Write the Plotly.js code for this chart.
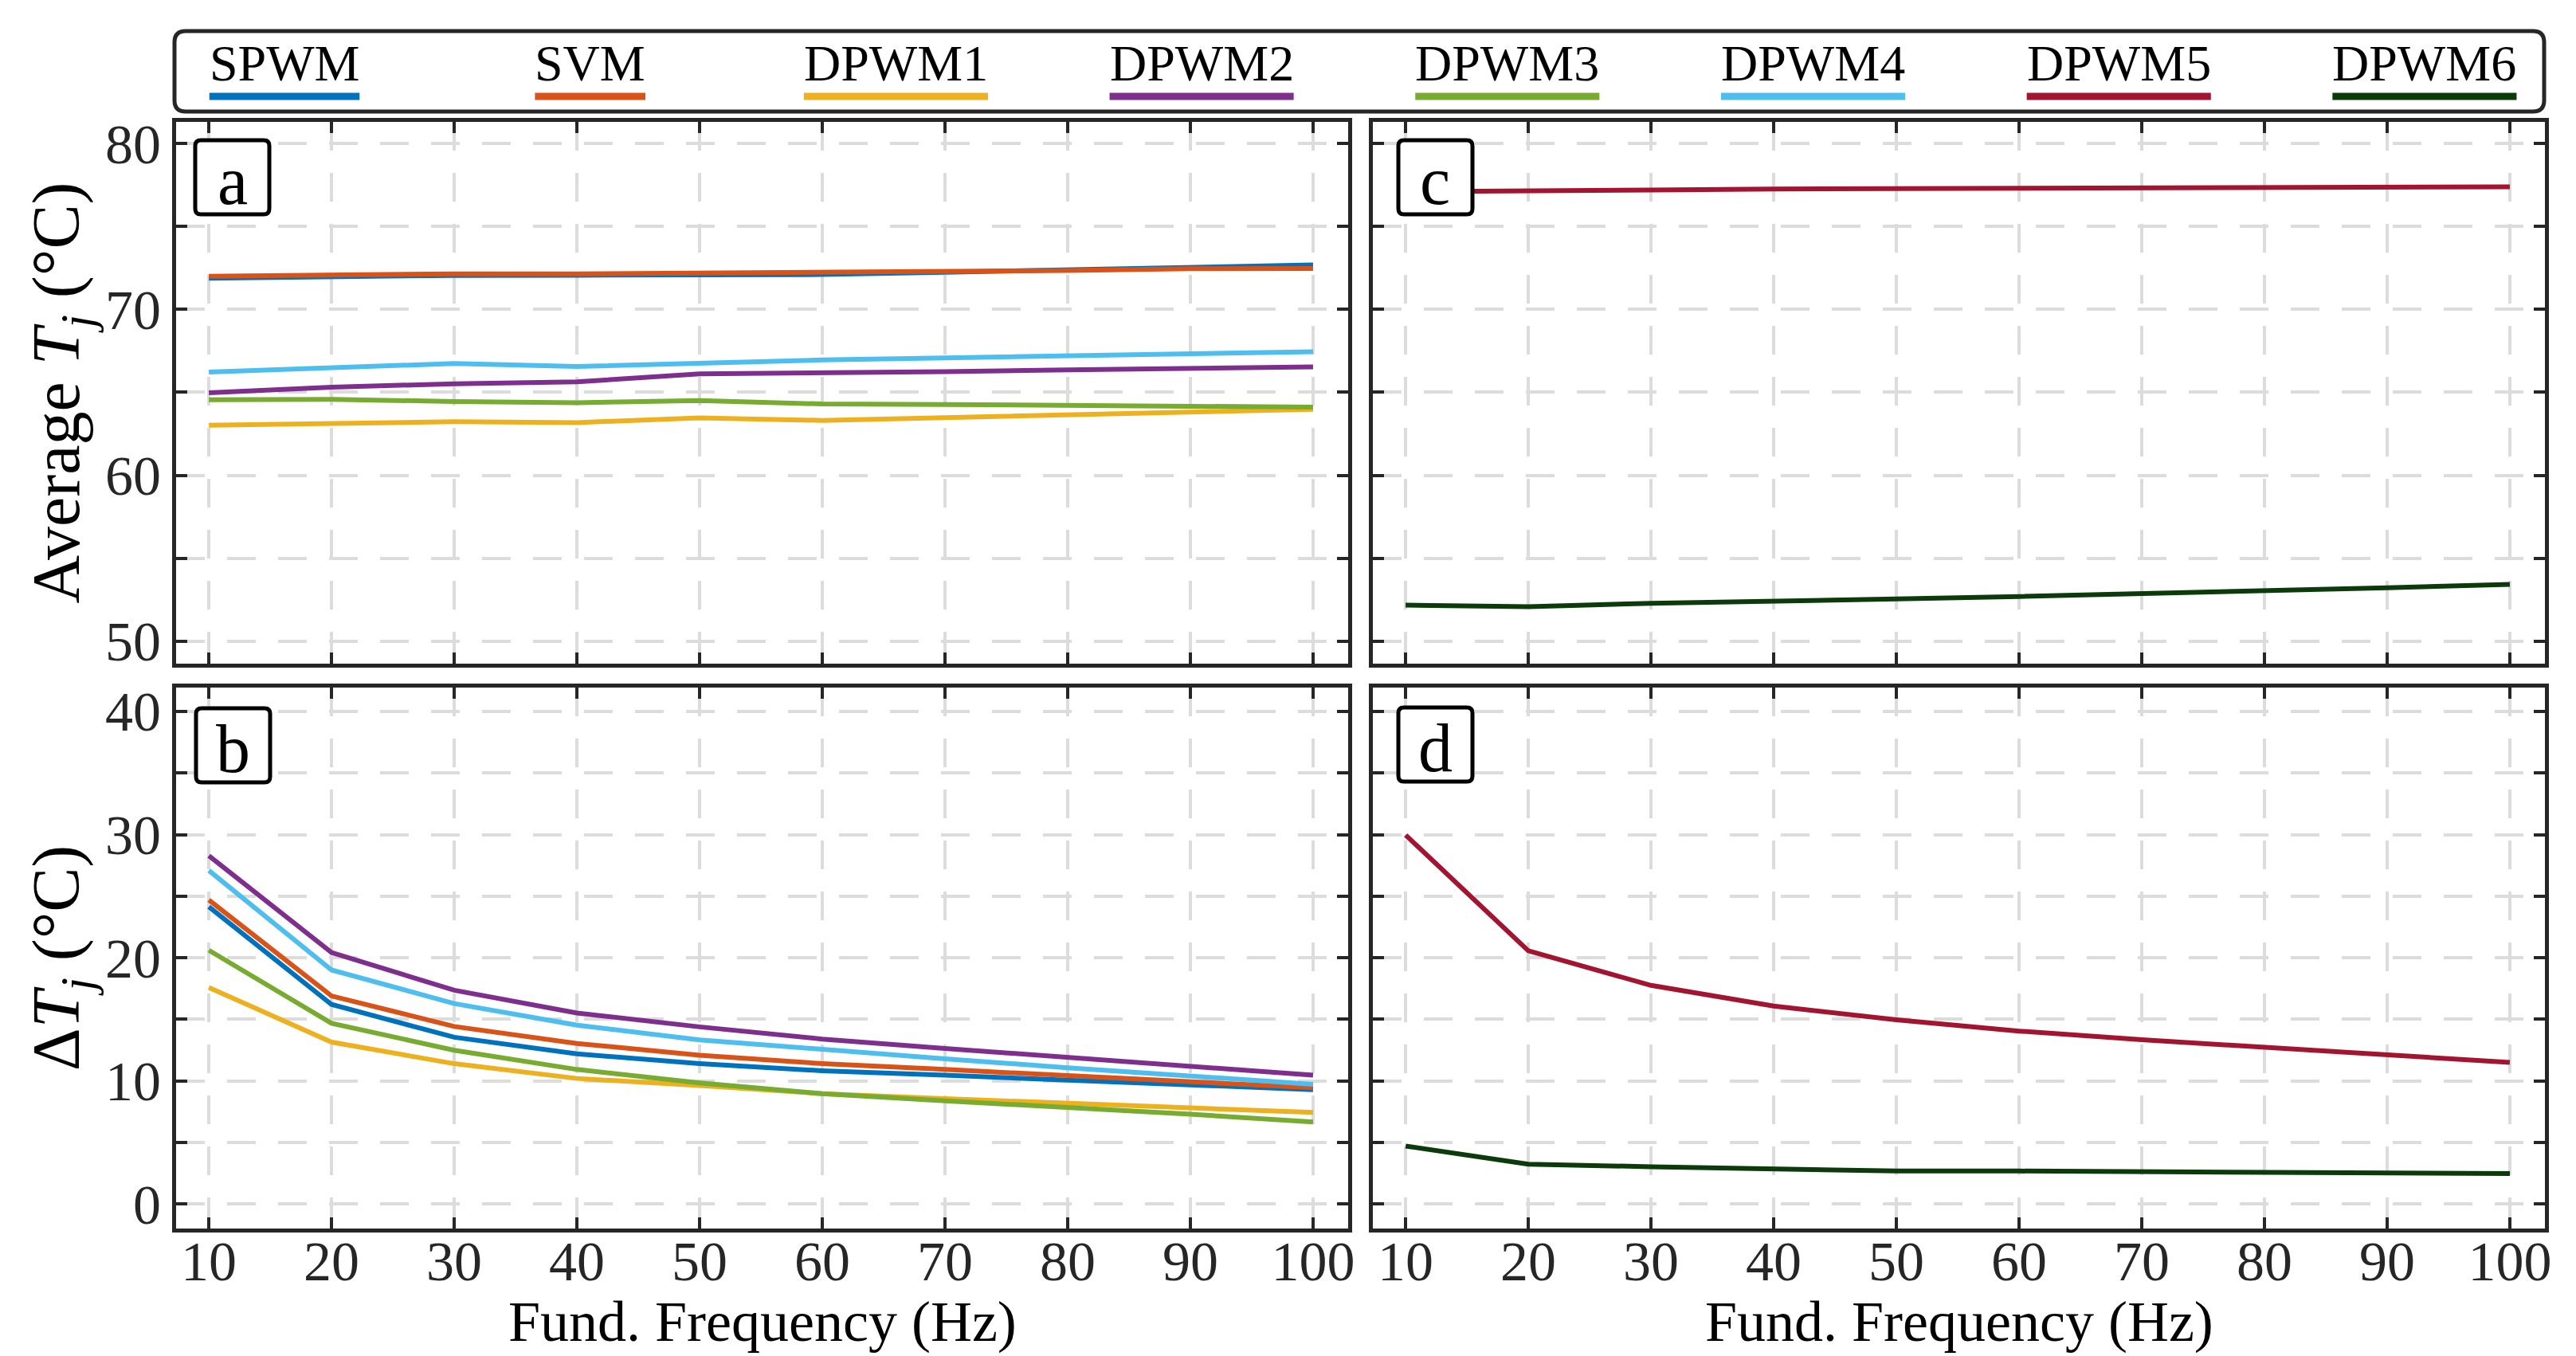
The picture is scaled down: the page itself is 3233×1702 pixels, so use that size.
<!DOCTYPE html>
<html><head><meta charset="utf-8">
<script src="https://cdn.plot.ly/plotly-3.0.1.min.js"></script>
<style>html,body{margin:0;padding:0;background:#fff}</style>
</head><body><div id="chart" style="width:3233px;height:1702px"></div>
<script>
// ---------------- DATA ----------------
const freq = [10, 20, 30, 40, 50, 60, 70, 80, 90, 100];
const seriesNames = ['SPWM', 'SVM', 'DPWM1', 'DPWM2', 'DPWM3', 'DPWM4', 'DPWM5', 'DPWM6'];
const seriesColors = ['#0072BD', '#D95319', '#EDB120', '#7E2F8E', '#77AC30', '#4DBEEE', '#A2142F', '#0B3B0B'];

// Average junction temperature (°C)
const avgSPWM  = [71.88, 71.98, 72.05, 72.06, 72.08, 72.10, 72.24, 72.37, 72.53, 72.68];
const avgSVM   = [72.00, 72.08, 72.14, 72.14, 72.19, 72.19, 72.27, 72.34, 72.45, 72.47];
const avgDPWM1 = [63.02, 63.15, 63.23, 63.18, 63.46, 63.31, 63.46, 63.65, 63.83, 63.98];
const avgDPWM2 = [64.97, 65.31, 65.52, 65.63, 66.12, 66.17, 66.25, 66.35, 66.43, 66.54];
const avgDPWM3 = [64.56, 64.58, 64.45, 64.38, 64.51, 64.30, 64.27, 64.24, 64.17, 64.11];
const avgDPWM4 = [66.22, 66.46, 66.74, 66.56, 66.77, 66.95, 67.08, 67.21, 67.32, 67.45];
const avgDPWM5 = [77.10, 77.12, 77.20, 77.26, 77.28, 77.31, 77.33, 77.34, 77.35, 77.39];
const avgDPWM6 = [52.18, 52.08, 52.29, 52.39, 52.55, 52.70, 52.86, 53.07, 53.22, 53.43];

// Junction temperature swing ΔTj (°C)
const dSPWM  = [24.13, 16.20, 13.54, 12.19, 11.39, 10.81, 10.45, 10.05, 9.68, 9.28];
const dSVM   = [24.68, 16.89, 14.41, 13.03, 12.08, 11.39, 10.92, 10.45, 9.97, 9.43];
const dDPWM1 = [17.58, 13.14, 11.39, 10.19, 9.61, 8.95, 8.55, 8.15, 7.83, 7.43];
const dDPWM2 = [28.28, 20.42, 17.36, 15.50, 14.38, 13.39, 12.63, 11.90, 11.17, 10.45];
const dDPWM3 = [20.60, 14.67, 12.48, 10.92, 9.83, 8.95, 8.37, 7.86, 7.28, 6.66];
const dDPWM4 = [27.08, 19.00, 16.27, 14.52, 13.32, 12.52, 11.79, 11.06, 10.37, 9.72];
const dDPWM5 = [29.96, 20.56, 17.75, 16.07, 14.95, 14.04, 13.33, 12.70, 12.07, 11.50];
const dDPWM6 = [4.70, 3.23, 3.02, 2.81, 2.67, 2.67, 2.60, 2.60, 2.53, 2.46];

const xTickVals = [10, 20, 30, 40, 50, 60, 70, 80, 90, 100];
const xTickText = ['10', '20', '30', '40', '50', '60', '70', '80', '90', '100'];
const avgTickVals = [50, 60, 70, 80];
const avgTickText = ['50', '60', '70', '80'];
const dTickVals = [0, 10, 20, 30, 40];
const dTickText = ['0', '10', '20', '30', '40'];
const panelLabels = ['a', 'b', 'c', 'd'];
const xTitleText = 'Fund. Frequency (Hz)';
const yTitleAvg = 'Average <i>T</i><sub><i>j</i></sub> (°C)';
const yTitleDelta = 'Δ<i>T</i><sub><i>j</i></sub> (°C)';

// ---------------- GEOMETRY / STYLE ----------------
const W = 3233, H = 1702;
const L = 221, R = 3194, T = 153, B = 1542;
const PW = R - L, PH = B - T;
const px = v => (v - L) / PW;
const py = v => (B - v) / PH;
const FONT = 'Liberation Serif, Times New Roman, serif';
const INK = '#262626';
const GRID = '#dcdcdc';
const DASH = '36px,28px';

const panels = {
  a: {x0: 221, x1: 1692, y0: 153, y1: 833},
  c: {x0: 1723, x1: 3194, y0: 153, y1: 833},
  b: {x0: 221, x1: 1692, y0: 863, y1: 1542},
  d: {x0: 1723, x1: 3194, y0: 863, y1: 1542}
};

const avgData = {SPWM: avgSPWM, SVM: avgSVM, DPWM1: avgDPWM1, DPWM2: avgDPWM2, DPWM3: avgDPWM3, DPWM4: avgDPWM4, DPWM5: avgDPWM5, DPWM6: avgDPWM6};
const dData = {SPWM: dSPWM, SVM: dSVM, DPWM1: dDPWM1, DPWM2: dDPWM2, DPWM3: dDPWM3, DPWM4: dDPWM4, DPWM5: dDPWM5, DPWM6: dDPWM6};
const leftGroup = ['SPWM', 'SVM', 'DPWM1', 'DPWM2', 'DPWM3', 'DPWM4'];
const rightGroup = ['DPWM5', 'DPWM6'];

const traces = [];
function addTraces(names, data, xa, ya) {
  names.forEach(n => {
    const i = seriesNames.indexOf(n);
    traces.push({
      type: 'scatter', mode: 'lines', name: n, x: freq, y: data[n],
      xaxis: xa, yaxis: ya, showlegend: false,
      line: {color: seriesColors[i], width: 6}
    });
  });
}
addTraces(leftGroup, avgData, 'x', 'y');
addTraces(rightGroup, avgData, 'x2', 'y2');
addTraces(leftGroup, dData, 'x3', 'y3');
addTraces(rightGroup, dData, 'x4', 'y4');

function xAxis(p, anchor, showLabels) {
  return {
    domain: [px(p.x0), px(p.x1)], anchor: anchor, range: [7.33, 102.86],
    tickmode: 'array', tickvals: xTickVals, ticktext: xTickText,
    showticklabels: showLabels, ticklabelstandoff: -24,
    ticks: 'inside', ticklen: 14, tickwidth: 4, tickcolor: INK,
    showline: true, linewidth: 5, linecolor: INK, mirror: 'ticks',
    showgrid: true, gridcolor: GRID, gridwidth: 4, griddash: DASH,
    zeroline: false, fixedrange: true,
    tickfont: {family: FONT, size: 70, color: INK}
  };
}
function yAxis(p, anchor, range, tv, tt, showLabels, title) {
  const ax = {
    domain: [py(p.y1), py(p.y0)], anchor: anchor, range: range,
    tickmode: 'array', tickvals: tv, ticktext: tt,
    showticklabels: showLabels,
    ticks: 'inside', ticklen: 14, tickwidth: 4, tickcolor: INK,
    showline: true, linewidth: 5, linecolor: INK, mirror: 'ticks',
    showgrid: true, gridcolor: GRID, gridwidth: 4, griddash: DASH,
    minor: {tick0: 0, dtick: 5, ticks: 'inside', ticklen: 14, tickwidth: 4, tickcolor: INK,
      showgrid: true, gridcolor: GRID, gridwidth: 4, griddash: DASH},
    zeroline: false, fixedrange: true,
    tickfont: {family: FONT, size: 70, color: INK}
  };
  if (title) ax.title = {text: title, font: {family: FONT, size: 84, color: '#000'}, standoff: 6};
  return ax;
}

const avgRange = [48.65, 81.3];
const dRange = [-2.0, 41.94];

const shapes = [];
const annotations = [];

function roundRectPath(x0, y0, x1, y1, r) {
  const P = (x, y) => px(x) + ',' + py(y);
  return 'M' + P(x0 + r, y0) + ' L' + P(x1 - r, y0) + ' Q' + P(x1, y0) + ' ' + P(x1, y0 + r) +
    ' L' + P(x1, y1 - r) + ' Q' + P(x1, y1) + ' ' + P(x1 - r, y1) +
    ' L' + P(x0 + r, y1) + ' Q' + P(x0, y1) + ' ' + P(x0, y1 - r) +
    ' L' + P(x0, y0 + r) + ' Q' + P(x0, y0) + ' ' + P(x0 + r, y0) + ' Z';
}

// Legend box
shapes.push({type: 'path', xref: 'paper', yref: 'paper', path: roundRectPath(219, 39, 3193, 140, 14),
  line: {color: INK, width: 5}, fillcolor: 'rgba(255,255,255,0)', layer: 'above'});
// legend entries: text above, line sample below
const charW = {S: 0.556, P: 0.556, W: 0.944, M: 0.889, V: 0.722, D: 0.722};
const legFont = 64;
seriesNames.forEach((n, i) => {
  const cx = 357 + i * 383.7;
  let w = 0;
  for (const ch of n) w += (charW[ch] !== undefined ? charW[ch] : 0.5);
  w *= legFont;
  annotations.push({xref: 'paper', yref: 'paper', x: px(cx), y: py(80), text: n, showarrow: false,
    xanchor: 'center', yanchor: 'middle', font: {family: FONT, size: legFont, color: '#000'}});
  shapes.push({type: 'line', xref: 'paper', yref: 'paper', x0: px(cx - w / 2), x1: px(cx + w / 2),
    y0: py(121), y1: py(121), line: {color: seriesColors[i], width: 9}, layer: 'above'});
});

// x-axis titles under the bottom panels
[panels.b, panels.d].forEach(p => {
  annotations.push({xref: 'paper', yref: 'paper', x: px((p.x0 + p.x1) / 2), y: py(1659), text: xTitleText,
    showarrow: false, xanchor: 'center', yanchor: 'middle', font: {family: FONT, size: 72, color: '#000'}});
});

// panel label boxes
const labelBox = {a: [245, 176], b: [246, 889], c: [1755, 176], d: [1755, 888]};
panelLabels.forEach(k => {
  const [bx, by] = labelBox[k];
  const s = 93;
  shapes.push({type: 'path', xref: 'paper', yref: 'paper', path: roundRectPath(bx, by, bx + s, by + s, 7),
    line: {color: '#000', width: 5}, fillcolor: '#ffffff', layer: 'above'});
  annotations.push({xref: 'paper', yref: 'paper', x: px(bx + s / 2), y: py(by + s / 2 + 4), text: k,
    showarrow: false, xanchor: 'center', yanchor: 'middle', font: {family: FONT, size: 86, color: '#000'}});
});

const layout = {
  width: W, height: H,
  margin: {l: L, r: W - R, t: T, b: H - B, pad: 0},
  paper_bgcolor: '#ffffff', plot_bgcolor: '#ffffff',
  showlegend: false,
  font: {family: FONT, color: '#000'},
  xaxis: xAxis(panels.a, 'y', false),
  yaxis: yAxis(panels.a, 'x', avgRange, avgTickVals, avgTickText, true, yTitleAvg),
  xaxis2: xAxis(panels.c, 'y2', false),
  yaxis2: yAxis(panels.c, 'x2', avgRange, avgTickVals, avgTickText, false, null),
  xaxis3: xAxis(panels.b, 'y3', true),
  yaxis3: yAxis(panels.b, 'x3', dRange, dTickVals, dTickText, true, yTitleDelta),
  xaxis4: xAxis(panels.d, 'y4', true),
  yaxis4: yAxis(panels.d, 'x4', dRange, dTickVals, dTickText, false, null),
  shapes: shapes,
  annotations: annotations
};

Plotly.newPlot('chart', traces, layout, {staticPlot: true, displayModeBar: false});
</script>
</body></html>
